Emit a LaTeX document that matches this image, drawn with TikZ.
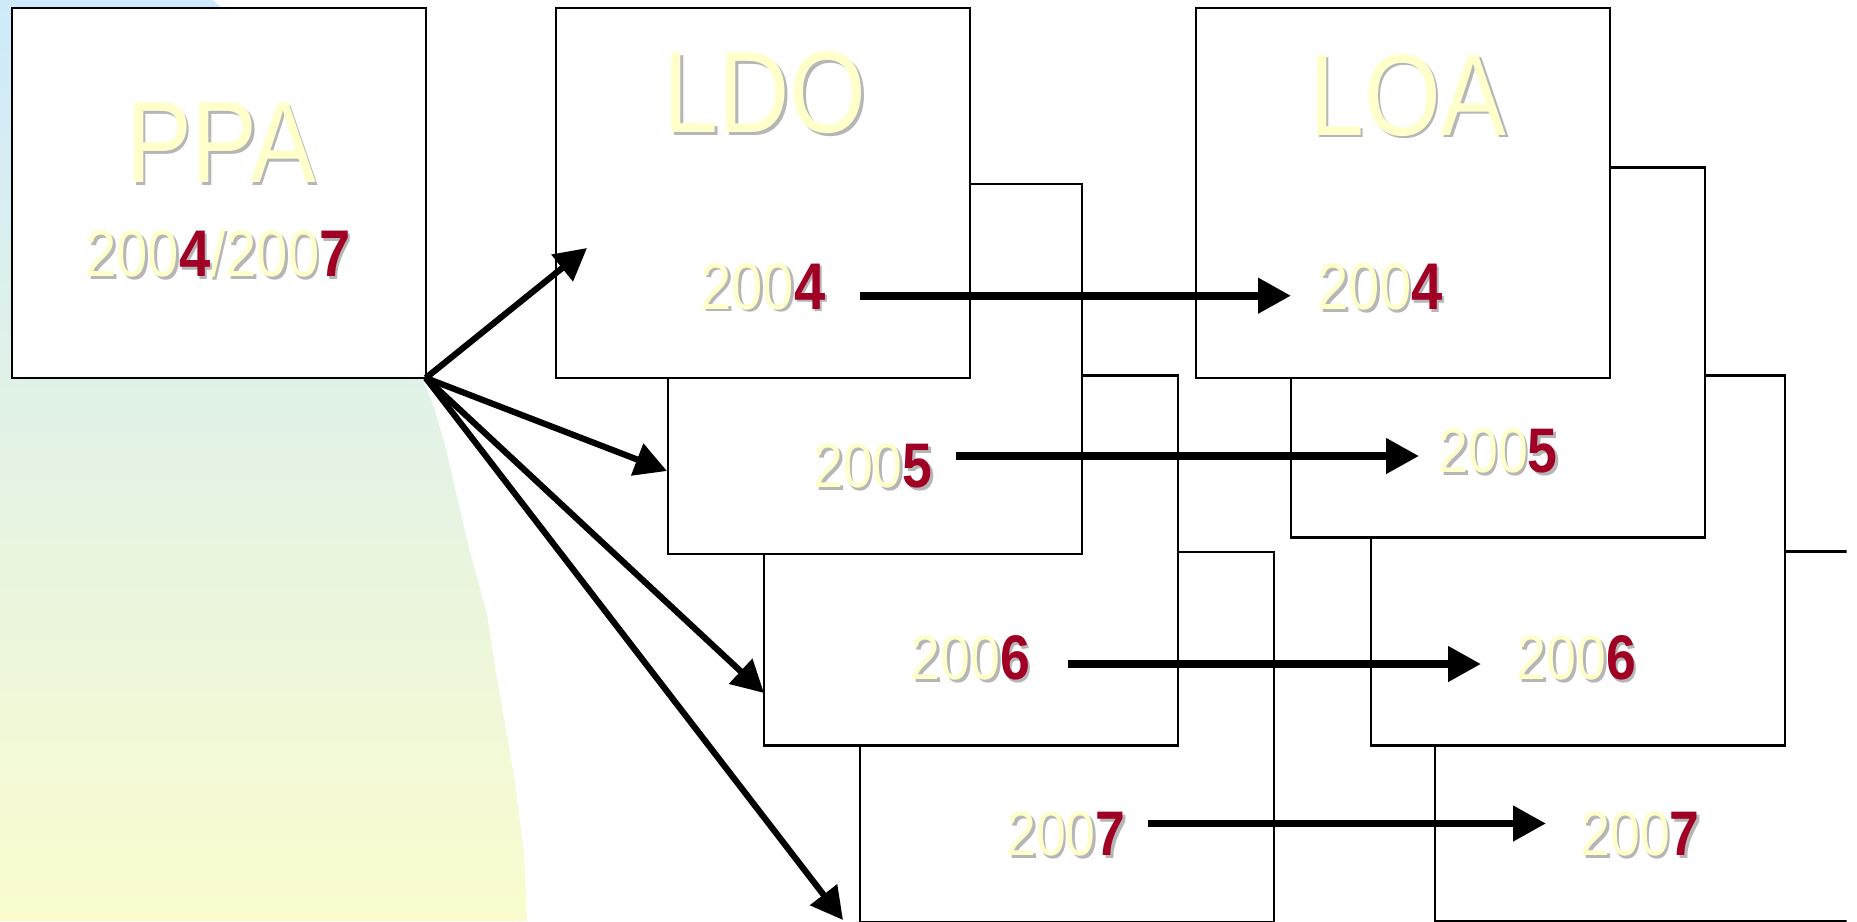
\documentclass[tikz,border=0pt]{standalone}
\usepackage{fontspec}
\setmainfont{Liberation Sans}[FakeStretch=0.85]
\usetikzlibrary{arrows.meta}
\definecolor{bgtop}{RGB}{206,234,250}
\definecolor{bgbot}{RGB}{250,252,206}
\definecolor{paleyel}{RGB}{255,255,204}
\definecolor{deepred}{RGB}{160,0,36}
\definecolor{shgrey}{RGB}{182,182,182}
\newcommand\redd[1]{{\color{deepred}\bfseries #1}}
\newcommand\reddsh[1]{{\bfseries #1}}
\newcommand\shtxt[1]{\makebox[0pt][l]{\hspace{1.3pt}\raisebox{-1.3pt}{\let\redd\reddsh\color{shgrey}#1}}{\color{paleyel}#1}}
\begin{document}
\begin{tikzpicture}[x=0.5pt,y=-0.5pt,
  box/.style={draw=black, line width=1.25pt, fill=white, anchor=north west,
    minimum width=207pt, minimum height=185pt, inner sep=0pt, outer sep=0pt},
  title/.style={anchor=base, inner sep=0pt, font=\fontsize{58}{60}\selectfont},
  yearbig/.style={anchor=base, inner sep=0pt, font=\fontsize{33}{36}\selectfont},
  yearsm/.style={anchor=base, inner sep=0pt, font=\fontsize{31.5}{34}\selectfont},
  diag/.style={line width=3.1pt, -{Triangle[length=16pt,width=16.5pt]}},
  horiz/.style={line width=3.8pt, -{Triangle[length=16.5pt,width=17pt]}}]
\useasboundingbox (0,0) rectangle (1857,921);
\begin{scope}
\clip (0,0) rectangle (1846.5,921);
% background gradient shape
\shade[top color=bgtop, bottom color=bgbot] (0,0) -- (213,0) -- (222,8)
  .. controls (330,90) and (405,250) .. (423,380)
  -- (434,407) -- (446,449) -- (457,497) -- (470,552) -- (487,614)
  -- (496,673) -- (514,776) -- (524,852) -- (527,921) -- (0,921) -- cycle;
% LDO stack
\node[box] (ldo4) at (860,552) {};
\node[box] (ldo3) at (764,375.5) {};
\node[box] (ldo2) at (668,184) {};
\node[box] (ldo1) at (556,8) {};
% LOA stack
\node[box] (loa4) at (1435,551.7) {};
\node[box] (loa3) at (1371,375.7) {};
\node[box] (loa2) at (1291,167.5) {};
\node[box] (loa1) at (1196,8) {};
% PPA
\node[box] (ppa) at (11.8,8) {};
% texts
\node[title] (ppaT) at (221,182.5) {\shtxt{PPA}};
\node[yearbig] (ppaY) at (218,276.5) {\shtxt{200\redd{4}/200\redd{7}}};
\node[title] (ldoT) at (765,132.5) {\shtxt{LDO}};
\node[title] (loaT) at (1408,135) {\shtxt{LOA}};
\node[yearbig] (ldoY4) at (763,309.2) {\shtxt{200\redd{4}}};
\node[yearbig] (loaY4) at (1380,309.5) {\shtxt{200\redd{4}}};
\node[yearsm] (ldoY5) at (873,487.5) {\shtxt{200\redd{5}}};
\node[yearsm] (loaY5) at (1498,472.5) {\shtxt{200\redd{5}}};
\node[yearsm] (ldoY6) at (970.5,679.5) {\shtxt{200\redd{6}}};
\node[yearsm] (loaY6) at (1576.5,679.5) {\shtxt{200\redd{6}}};
\node[yearsm] (ldoY7) at (1066,855.5) {\shtxt{200\redd{7}}};
\node[yearsm] (loaY7) at (1640,855.5) {\shtxt{200\redd{7}}};
% arrow end points
\coordinate (t1) at (587,248);
\coordinate (t2) at (667,471);
\coordinate (t3) at (764,693);
\coordinate (t4) at (843,920);
\coordinate (h4s) at (860,295.7);
\coordinate (h4e) at (1291,295.7);
\coordinate (h5s) at (956,456);
\coordinate (h5e) at (1419,456);
\coordinate (h6s) at (1067.5,664);
\coordinate (h6e) at (1481,664);
\coordinate (h7s) at (1148,823.5);
\coordinate (h7e) at (1546,823.5);
% arrows
\draw[diag] (ppa.south east) -- (t1);
\draw[diag] (ppa.south east) -- (t2);
\draw[diag] (ppa.south east) -- (t3);
\draw[diag] (ppa.south east) -- (t4);
\draw[horiz] (h4s) -- (h4e);
\draw[horiz] (h5s) -- (h5e);
\draw[horiz] (h6s) -- (h6e);
\draw[horiz] (h7s) -- (h7e);
\end{scope}
\end{tikzpicture}
\end{document}
